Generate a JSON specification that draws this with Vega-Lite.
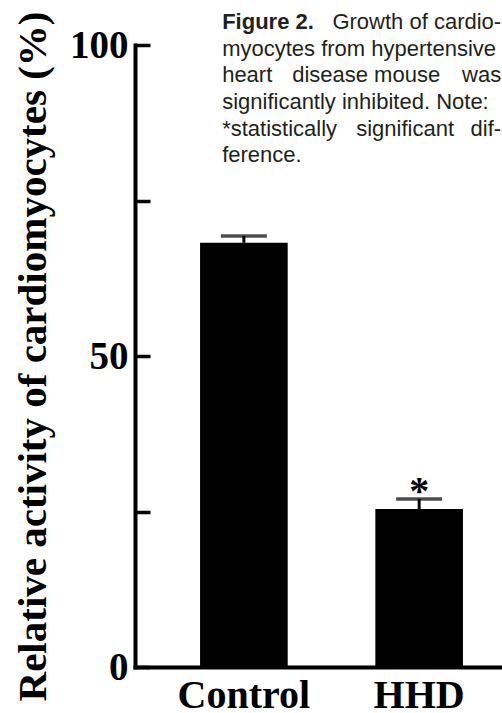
{
  "$schema": "https://vega.github.io/schema/vega-lite/v6.json",
  "width": 367,
  "height": 622,
  "autosize": {"type": "none"},
  "padding": {"left": 135, "top": 45, "right": 0, "bottom": 46},
  "background": "white",
  "config": {"view": {"stroke": null}},
  "data": {"values": [
    {"group": "Control", "value": 68.2, "upper": 69.3, "sig": ""},
    {"group": "HHD", "value": 25.4, "upper": 27.0, "sig": "*"}
  ]},
  "encoding": {
    "x": {
      "field": "group", "type": "nominal", "sort": null,
      "scale": {"paddingInner": 0.5, "paddingOuter": 0.297, "align": 0.625},
      "axis": {
        "title": null, "labelAngle": 0, "ticks": false,
        "domainColor": "black", "domainWidth": 4, "domainCap": "square",
        "labelFont": "Liberation Serif", "labelFontSize": 40, "labelFontWeight": "bold",
        "labelColor": "black", "labelBaseline": "alphabetic", "labelPadding": 40
      }
    }
  },
  "layer": [
    {
      "mark": {"type": "bar", "color": "black"},
      "encoding": {
        "y": {
          "field": "value", "type": "quantitative",
          "scale": {"domain": [0, 100], "nice": false},
          "axis": {
            "values": [0, 25, 50, 75, 100],
            "labelExpr": "datum.value % 50 === 0 ? datum.label : ''",
            "title": "Relative activity of cardiomyocytes (%)",
            "grid": false,
            "domainColor": "black", "domainWidth": 4, "domainCap": "square",
            "tickColor": "black", "tickWidth": 3.5, "tickSize": -15,
            "labelPadding": 22, "labelFlush": false, "labelOverlap": false,
            "labelFont": "Liberation Serif", "labelFontSize": 39, "labelFontWeight": "bold", "labelColor": "black",
            "titleFont": "Liberation Serif", "titleFontSize": 41, "titleFontWeight": "bold", "titleColor": "black",
            "titleX": -90, "titleY": 311, "titleBaseline": "alphabetic", "titleAngle": 270
          }
        }
      }
    },
    {
      "mark": {"type": "rule", "color": "black", "strokeWidth": 3},
      "encoding": {
        "y": {"field": "value", "type": "quantitative"},
        "y2": {"field": "upper"}
      }
    },
    {
      "mark": {"type": "tick", "orient": "horizontal", "color": "black", "thickness": 3.5, "size": 46},
      "encoding": {"y": {"field": "upper", "type": "quantitative"}}
    },
    {
      "mark": {"type": "text", "font": "Liberation Serif", "fontSize": 40, "fontWeight": "bold", "baseline": "alphabetic", "dy": 5, "color": "black"},
      "encoding": {
        "y": {"field": "upper", "type": "quantitative"},
        "text": {"field": "sig"}
      }
    },
    {
      "data": {"values": [{"t": "Figure 2."}]},
      "mark": {"type": "text", "font": "Liberation Sans", "fontSize": 22, "fontWeight": "bold", "align": "left", "baseline": "alphabetic", "dx": -197, "color": "#231f20"},
      "encoding": {
        "x": {"datum": "HHD"},
        "y": {"datum": 102.57, "type": "quantitative"},
        "text": {"field": "t"}
      }
    },
    {
      "data": {"values": [{"t": "Growth of cardio-"}]},
      "mark": {"type": "text", "font": "Liberation Sans", "fontSize": 22, "align": "right", "baseline": "alphabetic", "dx": 82, "color": "#231f20"},
      "encoding": {
        "x": {"datum": "HHD"},
        "y": {"datum": 102.57, "type": "quantitative"},
        "text": {"field": "t"}
      }
    },
    {
      "data": {"values": [{"t": ["myocytes from hypertensive", "heart", "significantly inhibited. Note:", "*statistically", "ference."]}]},
      "mark": {"type": "text", "font": "Liberation Sans", "fontSize": 22, "align": "left", "baseline": "alphabetic", "lineHeight": 26.7, "dx": -197, "color": "#231f20"},
      "encoding": {
        "x": {"datum": "HHD"},
        "y": {"datum": 98.28, "type": "quantitative"},
        "text": {"field": "t"}
      }
    },
    {
      "data": {"values": [{"t": "disease mouse"}]},
      "mark": {"type": "text", "font": "Liberation Sans", "fontSize": 22, "align": "center", "baseline": "alphabetic", "dx": -53, "color": "#231f20"},
      "encoding": {
        "x": {"datum": "HHD"},
        "y": {"datum": 93.98, "type": "quantitative"},
        "text": {"field": "t"}
      }
    },
    {
      "data": {"values": [{"t": "was"}]},
      "mark": {"type": "text", "font": "Liberation Sans", "fontSize": 22, "align": "right", "baseline": "alphabetic", "dx": 82, "color": "#231f20"},
      "encoding": {
        "x": {"datum": "HHD"},
        "y": {"datum": 93.98, "type": "quantitative"},
        "text": {"field": "t"}
      }
    },
    {
      "data": {"values": [{"t": "significant"}]},
      "mark": {"type": "text", "font": "Liberation Sans", "fontSize": 22, "align": "center", "baseline": "alphabetic", "dx": -14, "color": "#231f20"},
      "encoding": {
        "x": {"datum": "HHD"},
        "y": {"datum": 85.40, "type": "quantitative"},
        "text": {"field": "t"}
      }
    },
    {
      "data": {"values": [{"t": "dif-"}]},
      "mark": {"type": "text", "font": "Liberation Sans", "fontSize": 22, "align": "right", "baseline": "alphabetic", "dx": 82, "color": "#231f20"},
      "encoding": {
        "x": {"datum": "HHD"},
        "y": {"datum": 85.40, "type": "quantitative"},
        "text": {"field": "t"}
      }
    }
  ]
}
